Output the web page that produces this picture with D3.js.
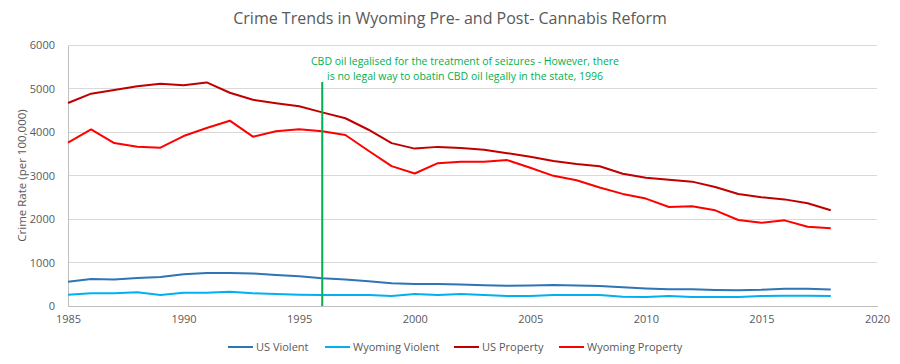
<!DOCTYPE html>
<html><head><meta charset="utf-8">
<script src="https://cdn.jsdelivr.net/npm/d3@7"></script>
<style>body{margin:0;background:#fff;} svg{display:block;font-family:"Open Sans",sans-serif;}</style>
</head><body>
<svg id="c" width="900" height="364"></svg>
<script>
const years = d3.range(1985, 2019);
const usViolent = [558,621,612,641,667,732,758,758,747,714,685,637,611,568,523,507,505,494,476,463,469,480,472,458,432,404,387,387,369,362,374,398,394,381];
const wyViolent = [261,292,292,315,254,307,307,330,292,277,261,254,254,254,231,277,254,277,254,231,231,254,254,254,215,208,231,208,208,208,231,238,238,231];
const usProperty = [4666,4881,4963,5054,5107,5073,5140,4903,4740,4660,4591,4451,4316,4052,3744,3618,3658,3631,3591,3514,3432,3335,3264,3212,3041,2946,2905,2859,2734,2574,2500,2451,2362,2200];
const wyProperty = [3755,4060,3746,3662,3639,3907,4092,4260,3893,4015,4065,4015,3930,3570,3216,3046,3284,3315,3315,3354,3177,2992,2892,2723,2577,2469,2277,2292,2200,1977,1915,1969,1823,1785];
const seriesNames = ["US Violent","Wyoming Violent","US Property","Wyoming Property"];
const seriesColors = ["#2e75b6","#00b0f0","#c00000","#ff0000"];
const xTicks = [1985,1990,1995,2000,2005,2010,2015,2020];
const yTicks = [0,1000,2000,3000,4000,5000,6000];
const eventYear = 1996;
const title = "Crime Trends in Wyoming Pre- and Post- Cannabis Reform";
const yLabel = "Crime Rate (per 100,000)";
const noteLines = ["CBD oil legalised for the treatment of seizures - However, there","is no legal way to obatin CBD oil legally in the state, 1996"];

const svg = d3.select("#c");
const x = d3.scaleLinear().domain([1985,2020]).range([68,877]);
const y = d3.scaleLinear().domain([0,6000]).range([306,45]);
const grey = "#595959";

// gridlines
svg.append("g").selectAll("line").data(yTicks.filter(d=>d>0)).join("line")
  .attr("x1",x(1985)).attr("x2",x(2020)).attr("y1",d=>y(d)).attr("y2",d=>y(d))
  .attr("stroke","#d9d9d9").attr("stroke-width",1).attr("shape-rendering","crispEdges");

// y axis labels
const ya = svg.append("g").attr("transform",`translate(${x(1985)},0)`)
  .call(d3.axisLeft(y).tickValues(yTicks).tickSize(0).tickPadding(13).tickFormat(d3.format("d")));
ya.select(".domain").attr("stroke","#bfbfbf").attr("shape-rendering","crispEdges");
ya.selectAll("text").attr("fill",grey).style("font-size","11px").style("font-family","'Open Sans',sans-serif");

// x axis
const xa = svg.append("g").attr("transform",`translate(0,${y(0)})`)
  .call(d3.axisBottom(x).tickValues(xTicks).tickSize(0).tickPadding(9).tickFormat(d3.format("d")));
xa.select(".domain").attr("stroke","#bfbfbf").attr("shape-rendering","crispEdges");
xa.selectAll("text").attr("fill",grey).style("font-size","11px").style("font-family","'Open Sans',sans-serif");

// lines
const data = [usViolent,wyViolent,usProperty,wyProperty];
const line = d3.line().x((d,i)=>x(years[i])).y(d=>y(d));
svg.append("g").selectAll("path").data(data).join("path")
  .attr("d",line).attr("fill","none").attr("stroke",(d,i)=>seriesColors[i])
  .attr("stroke-width",2).attr("stroke-linejoin","round");

// event line
svg.append("line").attr("x1",x(eventYear)).attr("x2",x(eventYear))
  .attr("y1",82).attr("y2",y(0)).attr("stroke","#00b050").attr("stroke-width",2);

// note
svg.append("g").selectAll("text").data(noteLines).join("text")
  .attr("x",465).attr("y",(d,i)=>65+i*15).attr("text-anchor","middle")
  .attr("fill","#00b050").style("font-size","10.5px").text(d=>d);

// title
svg.append("text").attr("x",450).attr("y",24).attr("text-anchor","middle")
  .attr("fill",grey).style("font-size","16px").text(title);

// y label
svg.append("text").attr("transform",`translate(26,${(y(0)+y(6000))/2}) rotate(-90)`)
  .attr("text-anchor","middle").attr("fill",grey).style("font-size","11.5px").text(yLabel);

// legend
const legX = [228,325,454,559];
const lg = svg.append("g").selectAll("g").data(seriesNames).join("g")
  .attr("transform",(d,i)=>`translate(${legX[i]},347)`);
lg.append("line").attr("x1",0).attr("x2",25).attr("y1",0).attr("y2",0)
  .attr("stroke",(d,i)=>seriesColors[i]).attr("stroke-width",2);
lg.append("text").attr("x",28).attr("y",4).attr("fill",grey).style("font-size","11px").text(d=>d);
</script>
</body></html>
